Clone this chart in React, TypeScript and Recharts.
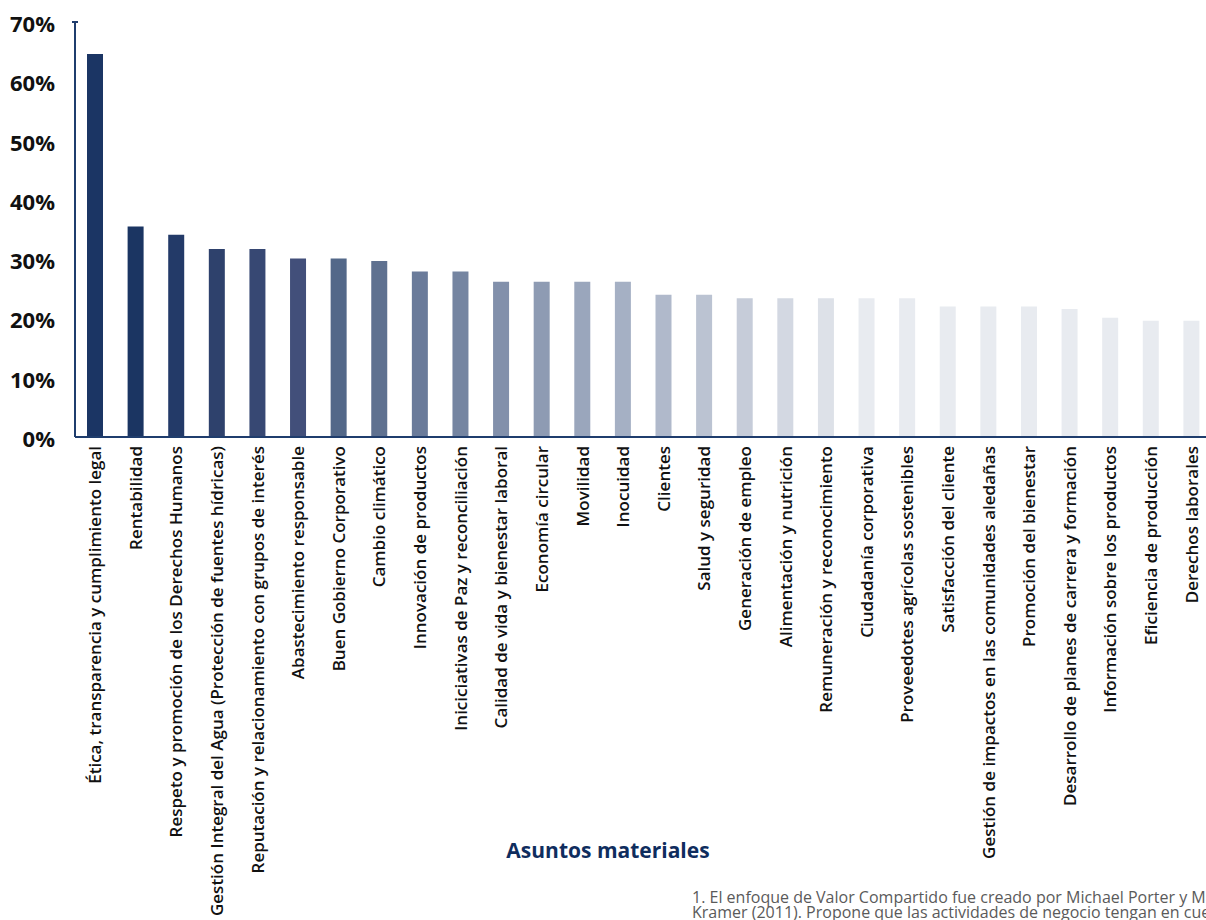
import { BarChart, Bar, XAxis, YAxis, Cell } from "recharts";

const asuntos = [
  "Ética, transparencia y cumplimiento legal",
  "Rentabilidad",
  "Respeto y promoción de los Derechos Humanos",
  "Gestión Integral del Agua (Protección de fuentes hídricas)",
  "Reputación y relacionamiento con grupos de interés",
  "Abastecimiento responsable",
  "Buen Gobierno Corporativo",
  "Cambio climático",
  "Innovación de productos",
  "Iniciciativas de Paz y reconciliación",
  "Calidad de vida y bienestar laboral",
  "Economía circular",
  "Movilidad",
  "Inocuidad",
  "Clientes",
  "Salud y seguridad",
  "Generación de empleo",
  "Alimentación y nutrición",
  "Remuneración y reconocimiento",
  "Ciudadanía corporativa",
  "Proveedotes agrícolas sostenibles",
  "Satisfacción del cliente",
  "Gestión de impactos en las comunidades aledañas",
  "Promoción del bienestar",
  "Desarrollo de planes de carrera y formación",
  "Información sobre los productos",
  "Eficiencia de producción",
  "Derechos laborales",
];

const porcentajes = [
  64.6, 35.5, 34.1, 31.7, 31.7, 30.1, 30.1, 29.7, 27.9, 27.9, 26.2, 26.2, 26.2,
  26.2, 24.0, 24.0, 23.4, 23.4, 23.4, 23.4, 23.4, 22.0, 22.0, 22.0, 21.6, 20.1,
  19.6, 19.6,
];

const yTicks = [0, 10, 20, 30, 40, 50, 60, 70];

const colores = [
  "#1b3564", "#1b3562", "#233a68", "#2e416c", "#374873", "#424f7a", "#536889",
  "#5f7190", "#6a7b9a", "#7585a1", "#8290ab", "#8e9bb3", "#9aa6bc", "#a5b0c4",
  "#b0b9cb", "#bbc3d2", "#c6ccd9", "#d3d8e2", "#dde1e8", "#e8ebf0", "#e8ebf0",
  "#e8ebf0", "#e8ebf0", "#e8ebf0", "#e8ebf0", "#e8ebf0", "#e8ebf0", "#e8ebf0",
];

const data = asuntos.map((name, i) => ({ name, value: porcentajes[i] }));

const AXIS = "#1f3d6d";

// @ts-ignore
const YTick = (props) => {
  const { x, y, payload } = props;
  return (
    <g>
      {payload.value === 70 && (
        <line x1={x + 17} x2={x + 23} y1={y} y2={y} stroke={AXIS} strokeWidth={2} />
      )}
      <text
        x={x}
        y={y}
        dy={1}
        textAnchor="end"
        dominantBaseline="central"
        fill="#111"
        style={{ fontSize: 22, fontWeight: 700, fontFamily: "Open Sans" }}
      >
        {payload.value}%
      </text>
    </g>
  );
};

// @ts-ignore
const XTick = (props) => {
  const { x, y, payload } = props;
  return (
    <text
      x={x}
      y={y}
      dy="0.35em"
      textAnchor="end"
      transform={`rotate(-90, ${x}, ${y})`}
      fill="#111"
      style={{ fontSize: 17, fontWeight: 600, fontFamily: "Open Sans" }}
    >
      {payload.value}
    </text>
  );
};

export default function App() {
  return (
    <div
      style={{
        position: "relative",
        width: 1206,
        height: 920,
        overflow: "hidden",
        background: "#fff",
      }}
    >
      <style>{`body{margin:0;overflow:hidden}`}</style>
      <BarChart
        width={1212}
        height={920}
        data={data}
        margin={{ top: 22, right: 0, bottom: 0, left: 0 }}
      >
        <XAxis
          dataKey="name"
          interval={0}
          height={483}
          tickLine={false}
          tickSize={6}
          tickMargin={3}
          axisLine={{ stroke: AXIS, strokeWidth: 2 }}
          tick={<XTick />}
        />
        <YAxis
          type="number"
          domain={[0, 70]}
          ticks={yTicks}
          width={75}
          tickLine={false}
          tickSize={6}
          tickMargin={14}
          axisLine={{ stroke: AXIS, strokeWidth: 2 }}
          tick={<YTick />}
        />
        <Bar dataKey="value" barSize={16} isAnimationActive={false}>
          {data.map((entry, index) => (
            <Cell key={`cell-${index}`} fill={colores[index]} />
          ))}
        </Bar>
      </BarChart>
      <div
        style={{
          position: "absolute",
          left: 608,
          top: 850,
          transform: "translate(-50%, -50%)",
          color: "#0f2d5e",
          fontFamily: "Open Sans",
          fontWeight: 700,
          fontSize: 21,
          whiteSpace: "nowrap",
        }}
      >
        Asuntos materiales
      </div>
      <div
        style={{
          position: "absolute",
          left: 692,
          top: 890,
          color: "#5a5a5a",
          fontFamily: "Open Sans",
          fontSize: 16,
          lineHeight: "15px",
          whiteSpace: "nowrap",
        }}
      >
        1. El enfoque de Valor Compartido fue creado por Michael Porter y Mark
        <br />
        Kramer (2011). Propone que las actividades de negocio tengan en cuenta
      </div>
    </div>
  );
}
